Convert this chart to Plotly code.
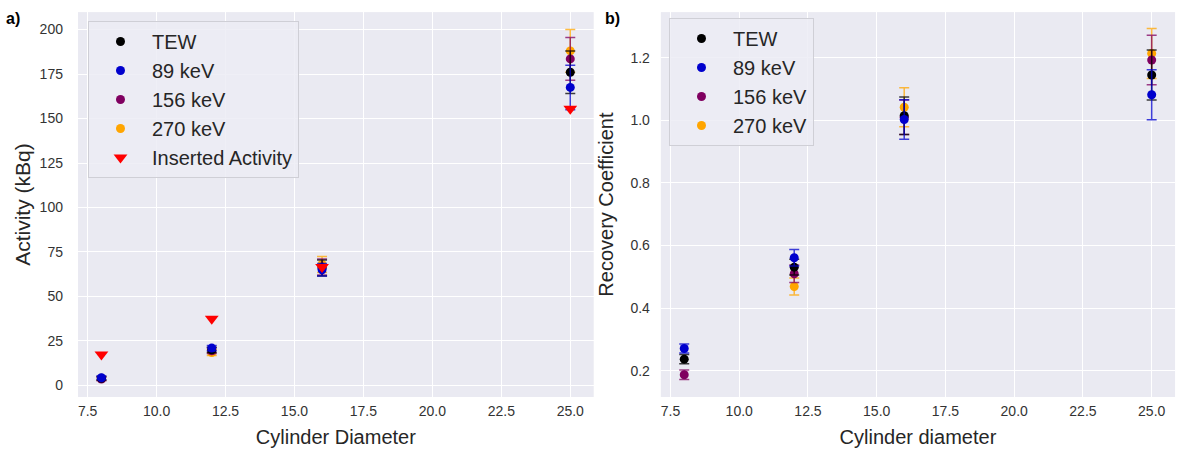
import plotly.graph_objects as go

# ---------------- data ----------------
diam = [8, 12, 16, 25]

# panel a) Activity (kBq)
act_tew = [4.0, 20.0, 66.0, 176.0]
act_tew_err = [1.0, 1.5, 4.5, 12.0]
act_89 = [4.3, 21.0, 65.0, 167.5]
act_89_err = [1.0, 1.5, 3.5, 12.5]
act_156 = [3.6, 19.5, 66.5, 183.5]
act_156_err = [1.0, 1.5, 4.5, 12.0]
act_270 = [3.9, 18.5, 68.0, 188.0]
act_270_err = [1.0, 1.7, 4.5, 12.0]
act_inserted = [17.4, 37.5, 66.5, 155.5]

# panel b) Recovery coefficient
rc_tew = [0.237, 0.531, 1.015, 1.145]
rc_tew_err = [0.015, 0.025, 0.060, 0.080]
rc_89 = [0.271, 0.561, 1.003, 1.082]
rc_89_err = [0.014, 0.026, 0.063, 0.080]
rc_156 = [0.187, 0.510, 1.010, 1.193]
rc_156_err = [0.015, 0.028, 0.055, 0.079]
rc_270 = [None, 0.469, 1.042, 1.214]
rc_270_err = [0.0, 0.027, 0.062, 0.080]

x_ticks = [7.5, 10.0, 12.5, 15.0, 17.5, 20.0, 22.5, 25.0]
act_ticks = [0, 25, 50, 75, 100, 125, 150, 175, 200]
rc_ticks = [0.2, 0.4, 0.6, 0.8, 1.0, 1.2]

# ---------------- style ----------------
COL = {
    "TEW": ("black", "rgba(0,0,0,0.75)"),
    "89 keV": ("#0000CD", "rgba(0,0,205,0.75)"),
    "156 keV": ("#800060", "rgba(128,0,96,0.75)"),
    "270 keV": ("#FFA500", "rgba(255,165,0,0.75)"),
}
FONT = "Liberation Sans, Arial, Helvetica, sans-serif"
TXT = "#262626"

fig = go.Figure()

# draw order: 270, 156, TEW, 89 (legend order kept via legendrank)
rank = {"TEW": 1, "89 keV": 2, "156 keV": 3, "270 keV": 4}
panel_a = {"TEW": (act_tew, act_tew_err), "89 keV": (act_89, act_89_err),
           "156 keV": (act_156, act_156_err), "270 keV": (act_270, act_270_err)}
panel_b = {"TEW": (rc_tew, rc_tew_err), "89 keV": (rc_89, rc_89_err),
           "156 keV": (rc_156, rc_156_err), "270 keV": (rc_270, rc_270_err)}

for name in ["270 keV", "156 keV", "TEW", "89 keV"]:
    vals, errs = panel_a[name]
    fig.add_trace(go.Scatter(
        x=diam, y=vals, mode="markers", name=name, legend="legend",
        legendrank=rank[name], xaxis="x", yaxis="y",
        marker=dict(color=COL[name][0], size=9),
        error_y=dict(type="data", array=errs, visible=True,
                     color=COL[name][1], thickness=1.5, width=5),
    ))

fig.add_trace(go.Scatter(
    x=diam, y=act_inserted, mode="markers", name="Inserted Activity",
    legend="legend", legendrank=5, xaxis="x", yaxis="y",
    marker=dict(color="red", size=12, symbol="triangle-down"),
))

for name in ["270 keV", "156 keV", "TEW", "89 keV"]:
    vals, errs = panel_b[name]
    fig.add_trace(go.Scatter(
        x=diam, y=vals, mode="markers", name=name, legend="legend2",
        legendrank=rank[name], xaxis="x2", yaxis="y2",
        marker=dict(color=COL[name][0], size=9),
        error_y=dict(type="data", array=errs, visible=True,
                     color=COL[name][1], thickness=1.5, width=5),
    ))

axis_common = dict(
    showgrid=True, gridcolor="white", gridwidth=1.3, zeroline=False,
    showline=False, ticks="", tickfont=dict(size=14, color="#333333", family=FONT),
    automargin=False,
)

fig.update_layout(
    width=1178, height=449,
    margin=dict(l=0, r=0, t=0, b=0),
    paper_bgcolor="white", plot_bgcolor="#EAEAF2",
    font=dict(family=FONT, color=TXT),
    showlegend=True,
    xaxis=dict(domain=[0.0662, 0.504], range=[7.15, 25.85], anchor="y",
               tickvals=x_ticks, tickformat=".1f", ticklabelstandoff=4,
               title=dict(text="Cylinder Diameter", font=dict(size=20, color=TXT), standoff=11),
               **axis_common),
    yaxis=dict(domain=[0.1158, 0.973], range=[-6.5, 209.8], anchor="x",
               tickvals=act_ticks, ticklabelstandoff=14,
               title=dict(text="Activity (kBq)", font=dict(size=21, color=TXT), standoff=3),
               **axis_common),
    xaxis2=dict(domain=[0.561, 0.9975], range=[7.15, 25.85], anchor="y2",
                tickvals=x_ticks, tickformat=".1f", ticklabelstandoff=4,
                title=dict(text="Cylinder diameter", font=dict(size=20, color=TXT), standoff=11),
                **axis_common),
    yaxis2=dict(domain=[0.1158, 0.973], range=[0.116, 1.346], anchor="x2",
                tickvals=rc_ticks, tickformat=".1f", ticklabelstandoff=10,
                title=dict(text="Recovery Coefficient", font=dict(size=20, color=TXT), standoff=11),
                **axis_common),
    legend=dict(x=88 / 1178, y=1 - 21 / 449, xanchor="left", yanchor="top",
                bgcolor="rgba(236,236,244,0.85)", bordercolor="#CFCFD6", borderwidth=1,
                font=dict(size=20, color=TXT, family=FONT), itemwidth=53,
                tracegroupgap=0),
    legend2=dict(x=669 / 1178, y=1 - 18 / 449, xanchor="left", yanchor="top",
                 bgcolor="rgba(236,236,244,0.85)", bordercolor="#CFCFD6", borderwidth=1,
                 font=dict(size=20, color=TXT, family=FONT), itemwidth=53,
                 tracegroupgap=0),
    annotations=[
        dict(text="<b>a)</b>", x=4 / 1178, y=1 - 8 / 449, xref="paper", yref="paper",
             xanchor="left", yanchor="top", showarrow=False,
             font=dict(size=16, color="black", family=FONT)),
        dict(text="<b>b)</b>", x=603 / 1178, y=1 - 8 / 449, xref="paper", yref="paper",
             xanchor="left", yanchor="top", showarrow=False,
             font=dict(size=16, color="black", family=FONT)),
    ],
)

fig.write_html("out.html", config={"displayModeBar": False},
               post_script="document.body.style.margin='0';document.body.style.overflow='hidden';")
